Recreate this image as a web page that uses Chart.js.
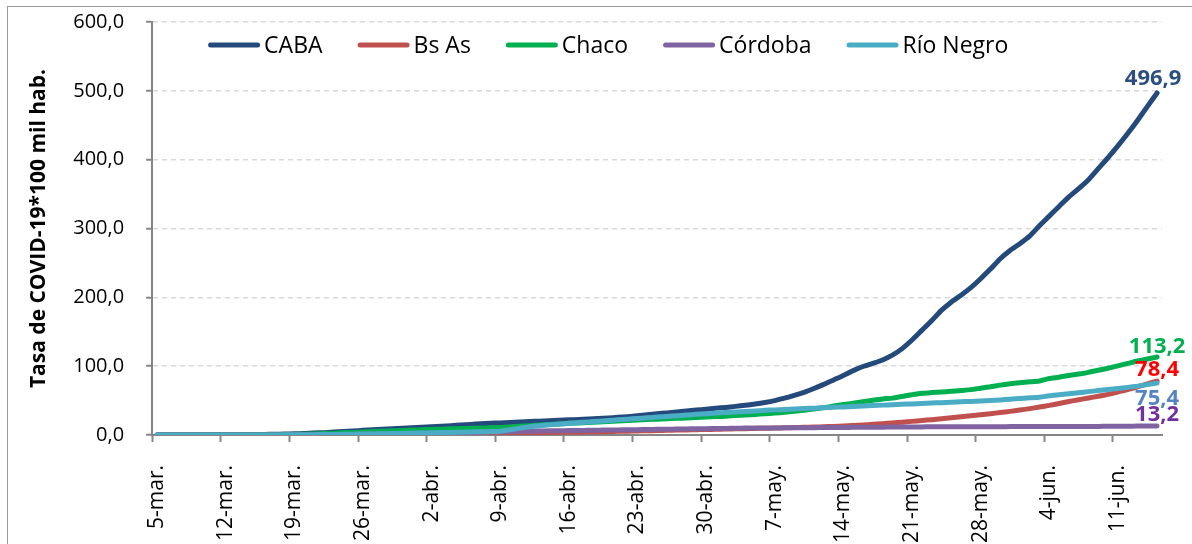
<!DOCTYPE html>
<html>
<head>
<meta charset="utf-8">
<script src="https://cdn.jsdelivr.net/npm/chart.js@4"></script>
<style>
  body { margin: 0; background: #fff; }
  #wrap { position: relative; width: 1192px; height: 544px; overflow: hidden; }
  #frame { position: absolute; left: 7px; top: 6px; width: 2000px; height: 2000px; border: 1.5px solid #9a9a9a; }
  #myChart { position: absolute; left: 0; top: 0; }
</style>
</head>
<body>
<div id="wrap">
  <div id="frame"></div>
  <canvas id="myChart" width="1192" height="544"></canvas>
</div>
<script>
// day labels 5-mar .. 15-jun
var months = [["mar", 5, 31], ["abr", 1, 30], ["may", 1, 31], ["jun", 1, 15]];
var datesLabel = [];
months.forEach(function (m) {
  for (var d = m[1]; d <= m[2]; d++) datesLabel.push(d + "-" + m[0] + ".");
});

var seriesNames = ["CABA", "Bs As", "Chaco", "Córdoba", "Río Negro"];

var cabaData = [
  0.0, 0.1, 0.1, 0.2, 0.2, 0.3, 0.3,
  0.4, 0.5, 0.6, 0.7, 0.9, 1.1, 1.4,
  1.7, 2.2, 2.8, 3.4, 4.2, 5.0, 5.9,
  6.8, 7.6, 8.4, 9.1, 9.8, 10.5, 11.2,
  11.9, 12.7, 13.6, 14.5, 15.4, 16.3, 17.0,
  17.6, 18.2, 18.8, 19.5, 20.1, 20.8, 21.4,
  22.0, 22.6, 23.3, 24.0, 24.8, 25.7, 26.7,
  28.0, 29.4, 30.8, 32.1, 33.4, 34.8, 36.2,
  37.5, 38.8, 40.1, 41.6, 43.2, 45.0, 47.2,
  50.0, 53.5, 57.5, 62.0, 67.5, 73.5, 80.0,
  86.5, 93.5, 99.5, 104.0, 109.0, 116.0, 125.5,
  138.0, 152.0, 166.0, 181.0, 193.0, 203.0, 214.0,
  227.0, 241.0, 256.0, 268.0, 278.0, 289.0, 304.0,
  318.0, 332.0, 346.0, 358.0, 371.0, 387.0, 403.0,
  420.0, 438.0, 457.0, 477.0, 496.9
];
var bsasData = [
  0, 0, 0, 0, 0, 0, 0,
  0, 0, 0, 0, 0.1, 0.1, 0.1,
  0.1, 0.2, 0.2, 0.3, 0.4, 0.5, 0.6,
  0.7, 0.8, 0.9, 1.0, 1.1, 1.2, 1.4,
  1.5, 1.7, 1.8, 2.0, 2.2, 2.4, 2.6,
  2.8, 3.0, 3.2, 3.4, 3.6, 3.8, 4.0,
  4.2, 4.4, 4.6, 4.8, 5.0, 5.3, 5.6,
  5.9, 6.2, 6.5, 6.8, 7.1, 7.4, 7.7,
  8.0, 8.3, 8.6, 8.9, 9.2, 9.5, 9.8,
  10.1, 10.4, 10.8, 11.2, 11.6, 12.0, 12.5,
  13.0, 13.8, 14.6, 15.5, 16.5, 17.5, 18.6,
  19.8, 21.0, 22.3, 23.6, 25.0, 26.5, 28.0,
  29.5, 31.0, 32.6, 34.3, 36.2, 38.3, 40.6,
  43.0, 45.8, 48.6, 51.2, 53.8, 56.2, 59.0,
  62.5, 66.0, 70.0, 74.2, 78.4
];
var chacoData = [
  0, 0, 0, 0, 0, 0, 0,
  0.1, 0.1, 0.2, 0.3, 0.4, 0.5, 0.7,
  0.9, 1.2, 1.6, 2.1, 2.6, 3.2, 3.8,
  4.4, 5.0, 5.6, 6.1, 6.6, 7.1, 7.6,
  8.1, 8.5, 8.9, 9.3, 9.7, 10.1, 10.5,
  11.0, 11.8, 12.7, 13.6, 14.5, 15.3, 16.1,
  16.9, 17.6, 18.3, 19.0, 19.7, 20.4, 21.1,
  21.8, 22.4, 23.0, 23.6, 24.2, 24.8, 25.4,
  26.0, 26.7, 27.4, 28.2, 29.0, 29.9, 30.8,
  31.8, 33.0, 34.4, 36.0, 37.8, 39.8, 42.0,
  44.2, 46.2, 48.4, 50.5, 52.4, 53.6, 56.0,
  58.5, 60.6, 61.6, 62.4, 63.4, 64.6, 65.9,
  68.0, 70.0, 72.5, 74.5, 76.0, 77.2, 78.5,
  82.0, 84.0, 86.5, 88.5, 91.0, 94.0, 97.0,
  100.5, 104.0, 107.5, 110.5, 113.2
];
var cordobaData = [
  0, 0, 0, 0, 0, 0, 0,
  0, 0, 0, 0, 0.1, 0.1, 0.1,
  0.2, 0.3, 0.4, 0.5, 0.6, 0.8, 1.0,
  1.2, 1.4, 1.6, 1.8, 2.0, 2.2, 2.4,
  2.6, 2.9, 3.2, 3.5, 3.8, 4.1, 4.4,
  4.7, 5.0, 5.3, 5.6, 5.8, 6.0, 6.2,
  6.4, 6.6, 6.8, 7.0, 7.2, 7.4, 7.6,
  7.8, 8.0, 8.2, 8.4, 8.6, 8.8, 9.0,
  9.2, 9.4, 9.6, 9.8, 10.0, 10.1, 10.2,
  10.3, 10.4, 10.5, 10.6, 10.7, 10.8, 10.9,
  11.0, 11.1, 11.2, 11.3, 11.4, 11.5, 11.6,
  11.7, 11.8, 11.9, 12.0, 12.0, 12.0, 12.0,
  12.1, 12.1, 12.1, 12.2, 12.2, 12.2, 12.3,
  12.3, 12.3, 12.4, 12.4, 12.5, 12.5, 12.6,
  12.7, 12.8, 12.9, 13.0, 13.2
];
var rionegroData = [
  0, 0, 0, 0, 0, 0, 0,
  0, 0, 0, 0, 0.1, 0.1, 0.2,
  0.3, 0.4, 0.5, 0.6, 0.8, 1.0, 1.2,
  1.4, 1.6, 1.8, 2.0, 2.3, 2.6, 2.9,
  3.2, 3.5, 3.8, 4.1, 4.4, 4.7, 5.0,
  5.6, 7.5, 10.0, 12.0, 13.5, 14.8, 16.0,
  17.0, 18.0, 19.0, 20.0, 21.0, 22.0, 23.0,
  24.0, 25.0, 26.0, 27.0, 28.0, 29.0, 30.0,
  31.0, 31.8, 32.6, 33.4, 34.2, 35.0, 35.8,
  36.5, 37.2, 37.8, 38.4, 39.0, 39.6, 40.2,
  40.8, 41.5, 42.2, 42.8, 43.4, 44.0, 44.6,
  45.2, 45.8, 46.4, 47.0, 47.6, 48.2, 48.8,
  49.4, 50.2, 51.0, 52.0, 53.0, 54.0, 55.0,
  57.0, 58.5, 60.0, 61.5, 63.0, 64.5, 66.0,
  67.5, 69.2, 71.0, 73.2, 75.4
];

var lineColors = ["#244A7C", "#C0504D", "#00B050", "#8064A2", "#4BACC6"];
var endLabelColors = ["#2B4F80", "#FF0000", "#00B050", "#7030A0", "#5584C4"];
// offsets of the end value labels from the last point
var endLabelShift = [[-4, -14], [0, -11], [0, -10], [0, -11], [0, 16]];

function fmt(v) {
  return v.toFixed(1).replace(".", ",");
}

// value labels at the end of each line
var endLabels = {
  id: "endLabels",
  afterDatasetsDraw: function (chart) {
    var c = chart.ctx;
    c.save();
    c.font = "bold 22px 'Open Sans'";
    c.textAlign = "center";
    c.textBaseline = "middle";
    chart.data.datasets.forEach(function (ds, i) {
      var meta = chart.getDatasetMeta(i);
      var pt = meta.data[meta.data.length - 1];
      c.fillStyle = endLabelColors[i];
      c.fillText(fmt(ds.data[ds.data.length - 1]), pt.x + endLabelShift[i][0], pt.y + endLabelShift[i][1]);
    });
    c.restore();
  },
};

// one-row legend drawn inside the plot area
var innerLegend = {
  id: "innerLegend",
  afterDraw: function (chart) {
    var c = chart.ctx;
    var area = chart.chartArea;
    var x = area.left + 56;
    var y = area.top + 23;
    c.save();
    c.font = "23px 'Open Sans'";
    c.textBaseline = "middle";
    c.lineCap = "round";
    c.lineWidth = 5;
    chart.data.datasets.forEach(function (ds) {
      c.strokeStyle = ds.borderColor;
      c.beginPath();
      c.moveTo(x + 2.5, y);
      c.lineTo(x + 49.5, y);
      c.stroke();
      c.fillStyle = "#000";
      c.fillText(ds.label, x + 56, y + 1);
      x += 56 + c.measureText(ds.label).width + 35;
    });
    c.restore();
  },
};

var allData = [cabaData, bsasData, chacoData, cordobaData, rionegroData];
var drawOrder = [4, 3, 2, 1, 0];

var ctx = document.getElementById("myChart").getContext("2d");
var myChart = new Chart(ctx, {
  type: "line",
  data: {
    labels: datesLabel,
    datasets: seriesNames.map(function (name, i) {
      return {
        label: name,
        data: allData[i],
        borderColor: lineColors[i],
        backgroundColor: lineColors[i],
        borderWidth: 5,
        borderCapStyle: "round",
        borderJoinStyle: "round",
        pointRadius: 0,
        tension: 0.2,
        fill: false,
        order: drawOrder[i],
      };
    }),
  },
  options: {
    responsive: false,
    animation: false,
    layout: { padding: { left: 26, right: 30, top: 22, bottom: 0 } },
    plugins: {
      tooltip: { enabled: false },
      legend: { display: false },
    },
    scales: {
      x: {
        type: "category",
        offset: true,
        afterFit: function (scale) {
          scale.height = 109;
          scale.paddingLeft = 0;
          scale.paddingRight = 0;
        },
        grid: {
          offset: true,
          drawOnChartArea: false,
          tickLength: 7,
          tickWidth: 2,
          tickColor: function (c) { return c.index % 7 === 0 ? "#868686" : "rgba(0,0,0,0)"; },
        },
        border: { color: "#868686", width: 2 },
        ticks: {
          autoSkip: false,
          maxRotation: 90,
          minRotation: 90,
          padding: 23,
          color: "#000",
          font: { family: "'Open Sans'", size: 21 },
          callback: function (v, i) { return i % 7 === 0 ? datesLabel[i] : ""; },
        },
      },
      y: {
        min: 0,
        max: 600,
        afterFit: function (scale) {
          // keep the tick padding from pushing the plot down
          scale.paddingTop = 12;
          scale.paddingBottom = 12;
        },
        grid: {
          color: "#D9D9D9",
          lineWidth: 1.5,
          tickLength: 6,
          tickWidth: 2,
          tickColor: "#868686",
        },
        border: { color: "#868686", width: 2, dash: [5, 4] },
        ticks: {
          stepSize: 100,
          padding: 22,
          color: "#000",
          font: { family: "'Open Sans'", size: 20 },
          callback: function (v) { return fmt(v); },
        },
        title: {
          display: true,
          text: "Tasa de COVID-19*100 mil hab.",
          color: "#000",
          font: { family: "'Open Sans'", size: 21, weight: "bold" },
          padding: { top: 0, bottom: 0 },
        },
      },
    },
  },
  plugins: [endLabels, innerLegend],
});
</script>
</body>
</html>
